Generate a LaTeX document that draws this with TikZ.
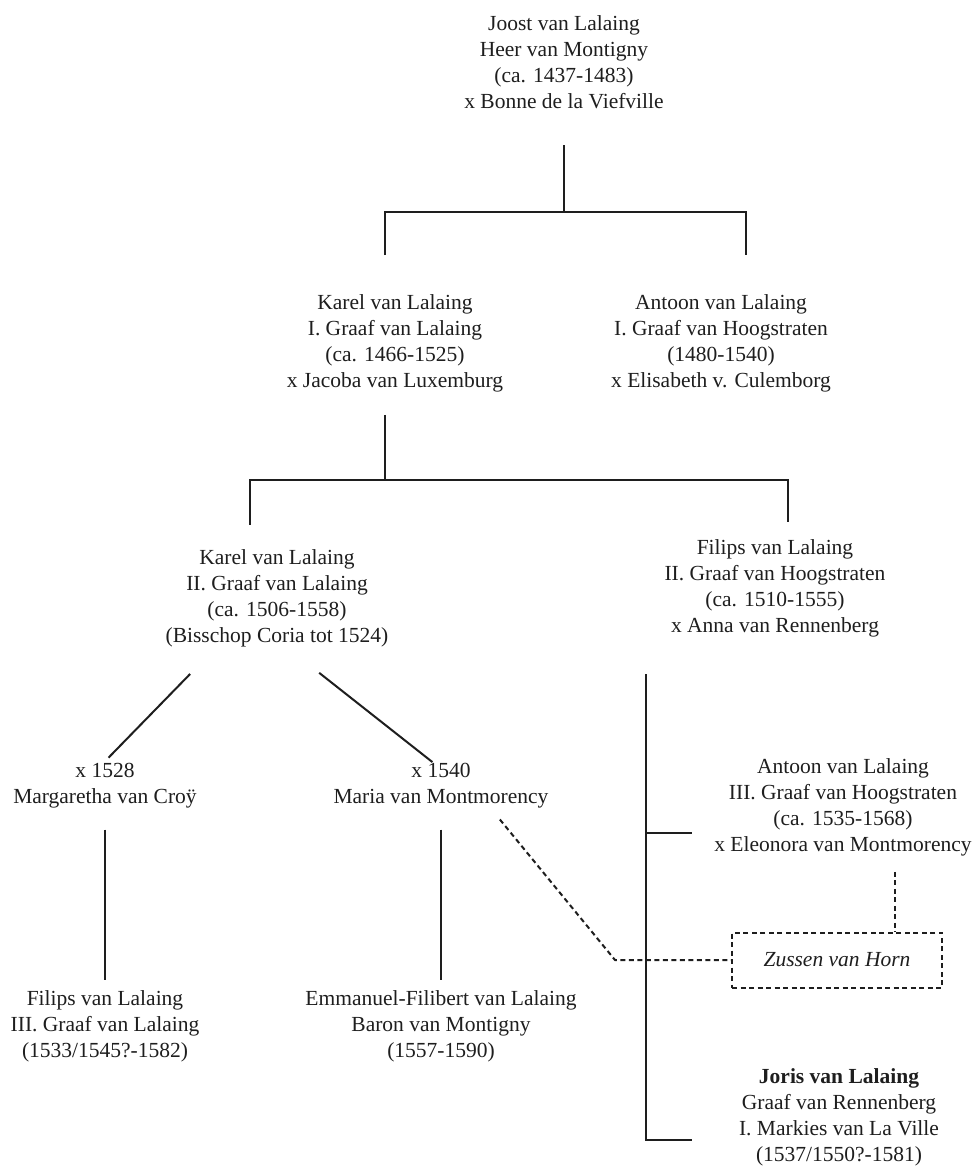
\documentclass[tikz,border=0pt]{standalone}
\usepackage{fontspec}
\setmainfont{Liberation Serif}
\usepackage{tikz}
\definecolor{ink}{HTML}{1E1E1E}
\newcommand{\persfont}{\fontsize{21.5}{26}\selectfont}
\tikzset{
  person/.style={align=center, inner sep=0pt, font=\persfont, text=ink},
  link/.style={line width=2pt, draw=ink},
  dotlink/.style={link, dash pattern=on 5pt off 3.5pt},
  hornbox/.style={dotlink, minimum width=210pt, minimum height=55pt, inner sep=0pt, font=\persfont\itshape, text=ink}
}
\begin{document}
\begin{tikzpicture}[x=1pt,y=-1pt]
\useasboundingbox (0,0) rectangle (975,1168);
\node[person] (joost) at (564,62.5) {Joost van Lalaing\\Heer van Montigny\\(ca. 1437-1483)\\x Bonne de la Viefville};
\node[person] (karelI) at (395,343) {Karel van Lalaing\\I. Graaf van Lalaing\\(ca. 1466-1525)\\x Jacoba van Luxemburg};
\node[person] (antoonI) at (721,343) {Antoon van Lalaing\\I. Graaf van Hoogstraten\\(1480-1540)\\x Elisabeth v. Culemborg};
\node[person] (karelII) at (277,598.5) {Karel van Lalaing\\II. Graaf van Lalaing\\(ca. 1506-1558)\\(Bisschop Coria tot 1524)};
\node[person] (filipsII) at (775,588) {Filips van Lalaing\\II. Graaf van Hoogstraten\\(ca. 1510-1555)\\x Anna van Rennenberg};
\node[person] (croy) at (105,786) {x 1528\\Margaretha van Croÿ};
\node[person] (maria) at (441,786) {x 1540\\Maria van Montmorency};
\node[person] (filipsIII) at (105,1026) {Filips van Lalaing\\III. Graaf van Lalaing\\(1533/1545?-1582)};
\node[person] (emmanuel) at (441,1026) {Emmanuel-Filibert van Lalaing\\Baron van Montigny\\(1557-1590)};
\node[person] (antoonIII) at (843,807) {Antoon van Lalaing\\III. Graaf van Hoogstraten\\(ca. 1535-1568)\\x Eleonora van Montmorency};
\node[hornbox] (horn) at (837,960) {Zussen van Horn};
\node[person] (joris) at (839,1117) {\textbf{Joris van Lalaing}\\Graaf van Rennenberg\\I. Markies van La Ville\\(1537/1550?-1581)};
\coordinate (jbar) at (564,212);
\coordinate (kbar) at (385,480);
\coordinate (bend) at (615,960);
\coordinate (bartop) at (646,674);
\coordinate (tickA) at ([yshift=-26pt]antoonIII.west);
\coordinate (tickJ) at ([yshift=-23pt]joris.west);
\draw[link,shorten <=36pt] (joost.south) -- (jbar);
\draw[link,shorten <=39pt,shorten >=39pt] ([xshift=-10pt]karelI.north) |- (jbar) -| ([xshift=25pt]antoonI.north);
\draw[link,shorten <=23pt] ([xshift=-10pt]karelI.south) -- (kbar);
\draw[link,shorten <=25pt,shorten >=17pt] ([xshift=-27pt]karelII.north) |- (kbar) -| ([xshift=13pt]filipsII.north);
\draw[link,shorten <=37pt,shorten >=8pt] ([xshift=-61pt]karelII.south) -- ([xshift=-2pt]croy.north);
\draw[link,shorten <=41pt,shorten >=2pt] ([xshift=10pt]karelII.south) -- ([xshift=-7pt]maria.north);
\draw[link,shorten <=21pt,shorten >=10pt] (croy.south) -- (filipsIII.north);
\draw[link,shorten <=21pt,shorten >=10pt] (maria.south) -- (emmanuel.north);
\draw[dotlink,shorten <=14pt] ([xshift=50pt]maria.south) -- (bend) -- (horn.west);
\draw[dotlink,shorten <=16pt] ([xshift=52pt]antoonIII.south) -- ([xshift=58pt]horn.north);
\draw[link,shorten >=47pt] (bartop) |- (tickJ);
\draw[link,shorten >=22pt] (bartop |- tickA) -- (tickA);
\end{tikzpicture}
\end{document}
